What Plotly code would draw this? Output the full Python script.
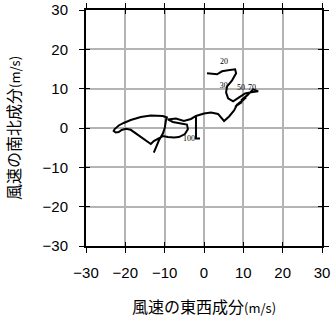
import plotly.graph_objects as go

# Hodograph path (u: east-west, v: north-south) in m/s
u = [-12.76, -11.48, -10.46, -9.95, -9.69, -9.44, -10.46, -13.52, -16.07, -18.62,
     -20.41, -21.68, -22.70, -22.96, -22.45, -21.68, -20.92, -19.90, -18.62, -17.35,
     -16.07, -14.80, -13.52, -12.76, -11.73, -10.46, -9.18, -7.65, -6.38, -4.85,
     -4.08, -4.34, -5.87, -7.91, -9.18, -7.14, -5.10, -3.32, -2.04, 0.00,
     1.79, 3.57, 5.10, 6.38, 7.65, 8.42, 9.70, 7.90, 10.20, 8.60,
     10.71, 9.44, 10.97, 12.50, 13.78, 11.99, 10.46, 8.93, 7.40, 6.12,
     5.61, 5.87, 7.14, 8.16, 7.91, 6.12, 4.59, 3.32, 0.77,
     None, -2.04, -2.04, -2.04, -1.02]
v = [-6.25, -3.19, -1.40, 0.13, 1.91, 2.68, 3.06, 3.19, 2.81, 2.04,
     1.28, 0.64, -0.26, -0.77, -1.15, -1.02, -0.51, -0.20, -0.46, -1.40,
     -2.30, -3.19, -4.08, -3.32, -2.68, -2.04, -2.30, -2.42, -2.30, -1.53,
     -0.26, 0.89, 1.15, 1.53, 2.17, 2.42, 1.79, 2.30, 3.06, 3.70,
     3.95, 3.57, 1.79, 2.93, 4.46, 5.99, 6.60, 5.40, 7.30, 6.10,
     7.78, 7.02, 8.29, 9.82, 9.31, 9.06, 8.80, 7.78, 6.76, 7.53,
     9.06, 10.59, 12.12, 13.90, 14.92, 14.67, 14.41, 13.65, 13.90,
     None, 3.06, 0.38, -2.68, -2.68]

# Level labels
lab_text = ["20", "30", "50", "70", "100"]
lab_u = [5.1, 5.0, 9.4, 12.2, -3.8]
lab_v = [16.7, 10.8, 10.2, 10.1, -2.7]

tick_vals = [-30, -20, -10, 0, 10, 20, 30]
x_title = "風速の東西成分"
y_title = "風速の南北成分"
unit = "(m/s)"

fig = go.Figure()
fig.add_trace(go.Scatter(x=u, y=v, mode="lines",
                         line=dict(color="black", width=2),
                         connectgaps=False, hoverinfo="skip", showlegend=False))
fig.add_trace(go.Scatter(x=lab_u, y=lab_v, mode="text", text=lab_text,
                         textfont=dict(family="Liberation Serif", size=8, color="#000000"),
                         showlegend=False, hoverinfo="skip"))
# invisible trace for inner-tick overlay axes
fig.add_trace(go.Scatter(x=[0], y=[0], xaxis="x2", yaxis="y2", mode="markers",
                         marker=dict(opacity=0), showlegend=False, hoverinfo="skip"))

axis_common = dict(range=[-30, 30], tickvals=tick_vals, showline=True, linecolor="black",
                   linewidth=2, mirror="ticks", ticks="outside", ticklen=5, tickwidth=1,
                   tickcolor="black", showgrid=True, gridcolor="#b4b4b4", gridwidth=2,
                   zeroline=False, fixedrange=True, automargin=False,
                   tickfont=dict(family="Liberation Sans", size=15, color="black"))
inner = dict(range=[-30, 30], tickvals=tick_vals, ticks="inside",
             ticklen=4, tickcolor="black", showticklabels=False, showgrid=False,
             zeroline=False, mirror="ticks", showline=False, fixedrange=True,
             automargin=False)
fig.update_layout(
    width=332, height=319,
    margin=dict(l=86, r=10, t=10, b=73, autoexpand=False),
    plot_bgcolor="white", paper_bgcolor="white",
    xaxis=dict(**axis_common, ticklabelstandoff=7),
    yaxis=dict(**axis_common, ticklabelstandoff=8),
    xaxis2=dict(**inner, overlaying="x"),
    yaxis2=dict(**inner, overlaying="y"),
    annotations=[
        dict(text=x_title + '<span style="font-size:13px">' + unit + "</span>",
             xref="paper", yref="paper", x=0.5, y=0, yshift=-60, xanchor="center",
             yanchor="middle", showarrow=False,
             font=dict(family="Noto Sans CJK JP", size=16, color="black")),
        dict(text=y_title + '<span style="font-size:13px">' + unit + "</span>",
             xref="paper", yref="paper", x=0, y=0.5, xshift=-73, xanchor="center",
             yanchor="middle", textangle=-90, showarrow=False,
             font=dict(family="Noto Sans CJK JP", size=16, color="black")),
    ],
)
fig.write_html("out.html")
